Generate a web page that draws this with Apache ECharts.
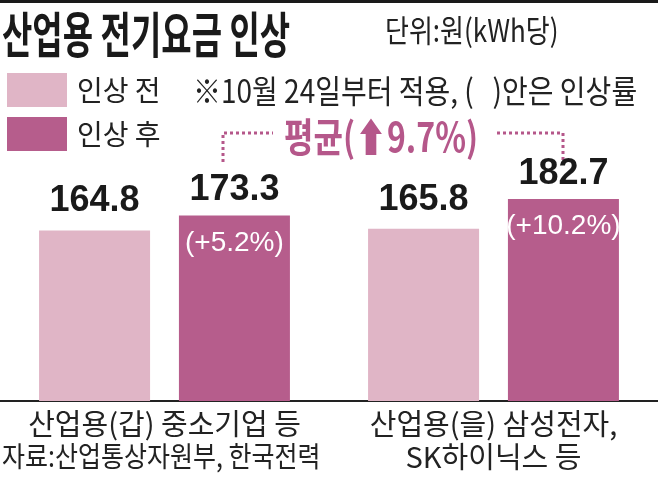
<!DOCTYPE html>
<html><head><meta charset="utf-8">
<script src="https://cdn.jsdelivr.net/npm/echarts@6/dist/echarts.min.js"></script>
<style>html,body{margin:0;padding:0;background:#fff}#c{width:658px;height:488px}</style>
</head><body><div id="c"></div>
<script>
const categories = ['산업용(갑) 중소기업 등', '산업용(을) 삼성전자,\nSK하이닉스 등'];
const seriesNames = ['인상 전', '인상 후'];
const beforeValues = [164.8, 165.8];
const afterValues = [173.3, 182.7];
const increaseRates = ['+5.2%', '+10.2%'];
const averageRate = '9.7%';

const KR = "'Noto Sans CJK KR', 'Noto Sans', sans-serif";
const NUM = "'Liberation Sans', Arial, sans-serif";
const LIGHT = '#e0b5c6';
const DARK = '#b65d8c';

const chart = echarts.init(document.getElementById('c'), null, {renderer: 'canvas'});
chart.setOption({
  animation: false,
  backgroundColor: '#fff',
  grid: {left: 0, right: 0, top: 180, bottom: 87, containLabel: false},
  legend: {
    orient: 'vertical', left: 7, top: 73, itemWidth: 60, itemHeight: 34, itemGap: 10,
    icon: 'rect', padding: 0, selectedMode: false,
    textStyle: {fontSize: 28, fontFamily: KR, color: '#222', padding: [0, 0, 0, 5]},
    data: seriesNames
  },
  xAxis: {
    type: 'category', data: categories,
    axisLine: {show: true, lineStyle: {color: '#222', width: 2}},
    axisTick: {show: false},
    axisLabel: {interval: 0, fontSize: 29, fontFamily: KR, color: '#222', lineHeight: 33, margin: 6}
  },
  yAxis: {type: 'value', min: 68, max: 193.5, show: false, splitLine: {show: false}},
  series: [
    {
      name: seriesNames[0], type: 'bar', data: beforeValues, barWidth: 111, barGap: '26%',
      itemStyle: {color: LIGHT},
      label: {show: true, position: 'top', distance: 11, fontSize: 36, fontWeight: 'bold',
        fontFamily: NUM, color: '#1a1a1a'}
    },
    {
      name: seriesNames[1], type: 'bar', data: afterValues, barWidth: 111, barGap: '26%',
      itemStyle: {color: DARK},
      label: {
        show: true, position: 'insideTop', distance: 0, offset: [0, -46],
        formatter: p => `{v|${p.value}}\n{p|(${increaseRates[p.dataIndex]})}`,
        rich: {
          v: {fontSize: 36, lineHeight: 42, fontWeight: 'bold', fontFamily: NUM, color: '#1a1a1a'},
          p: {fontSize: 28, lineHeight: 34, fontFamily: NUM, color: '#fff', padding: [29, 0, 0, 0]}
        }
      }
    }
  ],
  graphic: [
    {type: 'rect', shape: {x: 0, y: 0, width: 658, height: 3}, style: {fill: '#1a1a1a'}},
    {type: 'text', x: 2, y: 10, scaleY: 1.48,
      style: {text: '산업용 전기요금 인상', fontSize: 33, fontWeight: 'bold', fontFamily: KR, fill: '#1a1a1a', textVerticalAlign: 'top'}},
    {type: 'text', x: 385, y: 15, scaleY: 1.2,
      style: {text: '단위:원(kWh당)', fontSize: 26, fontFamily: KR, fill: '#222', textVerticalAlign: 'top'}},
    {type: 'text', x: 193, y: 75, scaleY: 1.15,
      style: {text: '※10월 24일부터 적용, (   )안은 인상률', fontSize: 28, fontFamily: KR, fill: '#222', textVerticalAlign: 'top'}},
    {type: 'text', x: 284, y: 117, scaleY: 1.25,
      style: {text: '평균(⬆' + averageRate + ')', fontSize: 32, fontWeight: 'bold', fontFamily: KR, fill: '#b5578a', textVerticalAlign: 'top'}},
    {type: 'polyline', shape: {points: [[223, 162], [223, 133], [273, 133]]},
      style: {stroke: '#b5578a', lineWidth: 3, lineDash: [3, 3], fill: null}},
    {type: 'polyline', shape: {points: [[497, 133], [563, 133], [563, 162]]},
      style: {stroke: '#b5578a', lineWidth: 3, lineDash: [3, 3], fill: null}},
    {type: 'text', x: 2, y: 442, scaleY: 1.15,
      style: {text: '자료:산업통상자원부, 한국전력', fontSize: 25, fontFamily: KR, fill: '#222', textVerticalAlign: 'top'}}
  ]
});
</script></body></html>
